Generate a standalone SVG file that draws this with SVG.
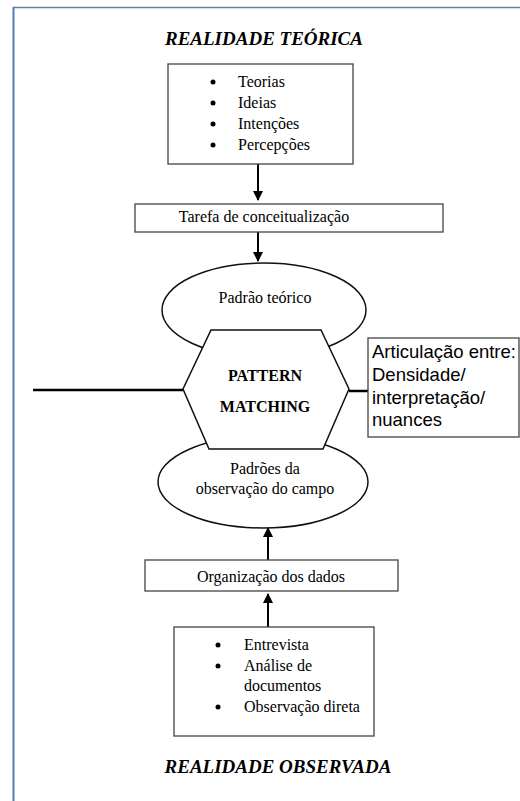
<svg xmlns="http://www.w3.org/2000/svg" width="520" height="801" viewBox="0 0 520 801">
<defs>
<style>
.serif{font-family:"Liberation Serif","Times New Roman",serif;fill:#000}
.t16{font-size:16px}
.title{font-size:19px;font-weight:bold;font-style:italic}
.bold{font-size:16px;font-weight:bold}
.sans{font-family:"Liberation Sans",Arial,sans-serif;font-size:18.5px;fill:#000}
.box{fill:#fff;stroke:#444;stroke-width:1.3}
.shape{fill:#fff;stroke:#111;stroke-width:1.5}
.conn{stroke:#000;stroke-width:2;fill:none}
.thick{stroke:#000;stroke-width:2.5;fill:none}
</style>
<marker id="ah" viewBox="0 0 10 10" refX="9" refY="5" markerWidth="5" markerHeight="5" orient="auto" markerUnits="strokeWidth">
<path d="M0,0 L10,5 L0,10 z" fill="#000"/>
</marker>
</defs>
<rect width="520" height="801" fill="#fff"/>
<g id="frame">
<line x1="13" y1="7.5" x2="520" y2="7.5" stroke="#6a7f9e" stroke-width="1.5"/>
<line x1="13.5" y1="7" x2="13.5" y2="801" stroke="#5b7bc0" stroke-width="2"/>
</g>
<g id="title-top"><text class="serif title" x="264" y="45" text-anchor="middle">REALIDADE TEÓRICA</text></g>
<g id="connectors">
<line class="conn" x1="258" y1="164" x2="258" y2="200" marker-end="url(#ah)"/>
<line class="conn" x1="258" y1="232" x2="258" y2="261" marker-end="url(#ah)"/>
<line class="conn" x1="268" y1="560" x2="268" y2="528" marker-end="url(#ah)"/>
<line class="conn" x1="268" y1="627" x2="268" y2="594" marker-end="url(#ah)"/>
<line class="thick" x1="33" y1="390" x2="183" y2="390"/>
<line class="thick" x1="349" y1="391" x2="368" y2="391"/>
</g>
<g id="node-theories">
<rect class="box" x="168" y="64" width="185" height="100"/>
<circle cx="213" cy="82" r="2.5"/><circle cx="213" cy="103" r="2.5"/><circle cx="213" cy="124" r="2.5"/><circle cx="213" cy="145" r="2.5"/>
<text class="serif t16" x="238" y="87">Teorias</text>
<text class="serif t16" x="238" y="108">Ideias</text>
<text class="serif t16" x="238" y="129">Intenções</text>
<text class="serif t16" x="238" y="150">Percepções</text>
</g>
<g id="node-conceptualization">
<rect class="box" x="135" y="204" width="308" height="28"/>
<text class="serif t16" x="264" y="222" text-anchor="middle">Tarefa de conceitualização</text>
</g>
<g id="node-theoretical-pattern">
<ellipse class="shape" cx="264" cy="310" rx="102" ry="47"/>
<text class="serif t16" x="265" y="303" text-anchor="middle">Padrão teórico</text>
</g>
<g id="node-observed-patterns">
<ellipse class="shape" cx="263" cy="482" rx="105" ry="46"/>
<text class="serif t16" x="265" y="474" text-anchor="middle">Padrões da</text>
<text class="serif t16" x="265" y="494" text-anchor="middle">observação do campo</text>
</g>
<g id="node-pattern-matching">
<polygon class="shape" points="211,330 321,330 349,389 323,449 209,449 183,389"/>
<text class="serif bold" x="265" y="381" text-anchor="middle">PATTERN</text>
<text class="serif bold" x="265" y="412" text-anchor="middle">MATCHING</text>
</g>
<g id="node-articulation">
<rect class="box" x="368" y="338" width="151" height="99"/>
<text class="sans" x="372" y="358">Articulação entre:</text>
<text class="sans" x="372" y="381">Densidade/</text>
<text class="sans" x="372" y="404">interpretação/</text>
<text class="sans" x="372" y="426">nuances</text>
</g>
<g id="node-organization">
<rect class="box" x="145" y="560" width="253" height="31"/>
<text class="serif t16" x="271" y="582" text-anchor="middle">Organização dos dados</text>
</g>
<g id="node-sources">
<rect class="box" x="174" y="627" width="200" height="109"/>
<circle cx="218" cy="645" r="2.5"/><circle cx="218" cy="666" r="2.5"/><circle cx="218" cy="707" r="2.5"/>
<text class="serif t16" x="244" y="650">Entrevista</text>
<text class="serif t16" x="244" y="671">Análise de</text>
<text class="serif t16" x="244" y="691">documentos</text>
<text class="serif t16" x="244" y="712">Observação direta</text>
</g>
<g id="title-bottom"><text class="serif title" x="278" y="773" text-anchor="middle">REALIDADE OBSERVADA</text></g>
</svg>
